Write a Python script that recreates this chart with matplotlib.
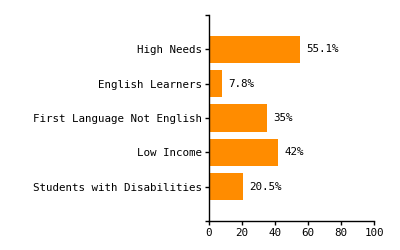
import matplotlib
matplotlib.use("Agg")
import matplotlib.pyplot as plt

categories = ["High Needs", "English Learners", "First Language Not English",
              "Low Income", "Students with Disabilities"]
values = [55.1, 7.8, 35, 42, 20.5]
value_labels = ["55.1%", "7.8%", "35%", "42%", "20.5%"]

plt.rcParams['font.family'] = ['DejaVu Sans Mono']
plt.rcParams['font.size'] = 7.8

fig = plt.figure(figsize=(4, 2.5), dpi=100)
ax = fig.add_axes([0.5225, 0.116, 0.4125, 0.824])

pos = list(range(len(categories)))
ax.barh(pos, values, height=0.8, color='#ff8c00')

for p, v, lab in zip(pos, values, value_labels):
    ax.annotate(lab, (v, p), xytext=(6, 0), textcoords='offset pixels',
                va='center', ha='left', fontsize=7.8)

ax.set_xlim(0, 100)
ax.set_ylim(5, -1)
ax.set_xticks([0, 20, 40, 60, 80, 100])
ax.set_yticks([-1] + pos + [5])
ax.set_yticklabels([""] + categories + [""])

for side in ['top', 'right']:
    ax.spines[side].set_visible(False)
for side in ['left', 'bottom']:
    ax.spines[side].set_linewidth(1)
ax.tick_params(length=3, width=1, pad=2)

fig.savefig("out.png", dpi=100)
